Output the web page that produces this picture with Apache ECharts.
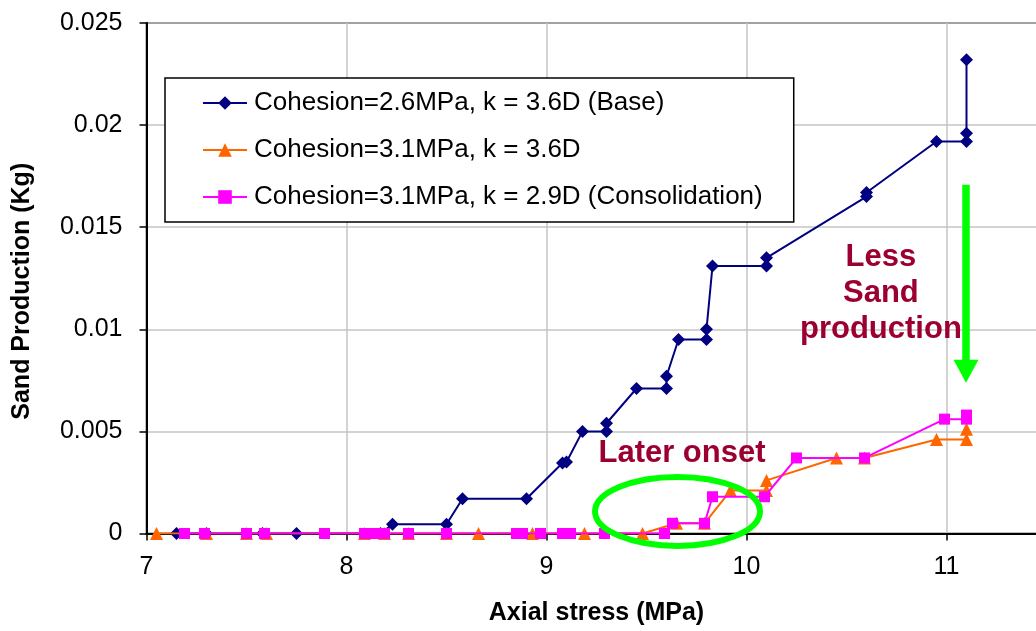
<!DOCTYPE html>
<html>
<head>
<meta charset="utf-8">
<script src="https://cdn.jsdelivr.net/npm/echarts@6/dist/echarts.min.js"></script>
<style>
  html, body { margin: 0; padding: 0; background: #ffffff; }
  #chart { width: 1036px; height: 631px; }
</style>
</head>
<body>
<div id="chart"></div>
<script>
// Series labels
const seriesNames = [
  'Cohesion=2.6MPa, k = 3.6D (Base)',
  'Cohesion=3.1MPa, k = 3.6D',
  'Cohesion=3.1MPa, k = 2.9D (Consolidation)'
];

// Base case: axial stress (MPa) and cumulative sand produced (kg)
const baseStress = [7.15, 7.3, 7.58, 7.75, 8.17, 8.23, 8.5, 8.58, 8.9, 9.08, 9.1, 9.18, 9.3, 9.3, 9.45, 9.6, 9.6, 9.66, 9.8, 9.8, 9.83, 10.1, 10.1, 10.6, 10.6, 10.95, 11.1, 11.1, 11.1];
const baseSand   = [0, 0, 0, 0, 0, 0.00045, 0.00045, 0.0017, 0.0017, 0.00345, 0.0035, 0.005, 0.005, 0.0054, 0.0071, 0.0071, 0.0077, 0.0095, 0.0095, 0.01, 0.0131, 0.0131, 0.0135, 0.0165, 0.0167, 0.0192, 0.0192, 0.0196, 0.0232];

// Higher cohesion, same permeability
const cohStress = [7.05, 7.3, 7.5, 7.6, 8.09, 8.19, 8.31, 8.5, 8.66, 8.93, 9.19, 9.48, 9.65, 9.79, 9.92, 10.1, 10.1, 10.45, 10.59, 10.95, 11.1, 11.1];
const cohSand   = [0, 0, 0, 0, 0, 0, 0, 0, 0, 0, 0, 0, 0.0005, 0.0005, 0.0021, 0.0021, 0.0026, 0.0037, 0.0037, 0.0046, 0.0046, 0.0051];

// Higher cohesion, consolidated (lower permeability)
const consStress = [7.19, 7.29, 7.5, 7.59, 7.89, 8.09, 8.14, 8.19, 8.31, 8.5, 8.85, 8.88, 8.97, 9.08, 9.12, 9.29, 9.59, 9.63, 9.79, 9.83, 10.09, 10.25, 10.59, 10.99, 11.1, 11.1];
const consSand   = [0, 0, 0, 0, 0, 0, 0, 0, 0, 0, 0, 0, 0, 0, 0, 0, 0, 0.0005, 0.0005, 0.0018, 0.0018, 0.0037, 0.0037, 0.0056, 0.0056, 0.0058];

// Axis tick labels
const xTickLabels = ['7', '8', '9', '10', '11', '12'];
const yTickLabels = ['0', '0.005', '0.01', '0.015', '0.02', '0.025'];

// Annotation texts
const onsetText = 'Later onset';
const lessText = 'Less\nSand\nproduction';

const FONT = '"Liberation Sans", Arial, Helvetica, sans-serif';
const NOTE_RED = '#9c0030';
const GREEN = '#00ff00';

const pairs = (xs, ys) => xs.map((x, i) => [x, ys[i]]);

const chart = echarts.init(document.getElementById('chart'), null, { renderer: 'canvas' });

const option = {
  animation: false,
  backgroundColor: '#ffffff',
  grid: {
    left: 146.5, top: 23, right: -110.5, bottom: 97.5,
    containLabel: false,
    outerBoundsMode: 'none',
    show: true, borderColor: '#000000', borderWidth: 1.5, backgroundColor: 'transparent'
  },
  legend: {
    orient: 'vertical',
    left: 165, top: 78,
    padding: [12, 31, 12, 37],
    itemGap: 21,
    itemWidth: 44,
    itemHeight: 17,
    borderColor: '#000000',
    borderWidth: 1.5,
    backgroundColor: '#ffffff',
    textStyle: { fontFamily: FONT, fontSize: 26, color: '#000000', lineHeight: 26, padding: [0, 0, 0, 2] },
    data: seriesNames
  },
  xAxis: {
    type: 'value',
    min: 7, max: 12, interval: 1,
    name: 'Axial stress (MPa)',
    nameLocation: 'middle',
    nameGap: 67,
    nameTextStyle: { fontFamily: FONT, fontSize: 25, fontWeight: 'bold', color: '#000000', padding: [0, 100, 0, 0] },
    axisLine: { onZero: false, lineStyle: { color: '#000000', width: 2 } },
    axisTick: { show: true, inside: false, length: 7, lineStyle: { color: '#000000', width: 1.5 } },
    axisLabel: {
      fontFamily: FONT, fontSize: 25, color: '#000000', margin: 21,
      formatter: v => xTickLabels[Math.round(v - 7)]
    },
    splitLine: { show: true, lineStyle: { color: '#c4c4c4', width: 1.5 } }
  },
  yAxis: {
    type: 'value',
    min: 0, max: 0.025, interval: 0.005,
    name: 'Sand Production (Kg)',
    nameLocation: 'middle',
    nameGap: 112,
    nameTextStyle: { fontFamily: FONT, fontSize: 25, fontWeight: 'bold', color: '#000000', padding: [0, 26, 0, 0] },
    axisLine: { show: true, lineStyle: { color: '#000000', width: 2 } },
    axisTick: { show: true, inside: false, length: 7, lineStyle: { color: '#000000', width: 1.5 } },
    axisLabel: {
      fontFamily: FONT, fontSize: 25, color: '#000000', margin: 24,
      formatter: v => yTickLabels[Math.round(v / 0.005)]
    },
    splitLine: { show: true, lineStyle: { color: '#c4c4c4', width: 1.5 } }
  },
  series: [
    {
      name: seriesNames[0], type: 'line',
      data: pairs(baseStress, baseSand),
      symbol: 'diamond', symbolSize: 13,
      itemStyle: { color: '#000080' },
      lineStyle: { color: '#000080', width: 2 },
      z: 2
    },
    {
      name: seriesNames[1], type: 'line',
      data: pairs(cohStress, cohSand),
      symbol: 'triangle', symbolSize: 13,
      itemStyle: { color: '#ff6600' },
      lineStyle: { color: '#ff6600', width: 2 },
      z: 3
    },
    {
      name: seriesNames[2], type: 'line',
      data: pairs(consStress, consSand),
      symbol: 'rect', symbolSize: 11,
      itemStyle: { color: '#ff00ff' },
      lineStyle: { color: '#ff00ff', width: 2 },
      z: 4
    }
  ]
};

chart.setOption(option);

// Annotations anchored in data space
const toPx = (x, y) => chart.convertToPixel({ gridIndex: 0 }, [x, y]);
const ellC = toPx(9.655, 0.00108);
const onsetC = toPx(9.6775, 0.0039);
const lessC = toPx(10.672, 0.01175);
const arrowTop = toPx(11.0975, 0.01708);
const arrowTip = toPx(11.0975, 0.00738);
const headLen = 23, headHalf = 12.5, shaftHalf = 3.75;

chart.setOption({
  graphic: [
    {
      type: 'ellipse', z: 100,
      shape: { cx: ellC[0], cy: ellC[1], rx: 82.5, ry: 34.5 },
      style: { fill: null, stroke: GREEN, lineWidth: 6 }
    },
    {
      type: 'text', z: 100,
      x: onsetC[0], y: onsetC[1],
      style: { text: onsetText, fill: NOTE_RED, font: 'bold 31px ' + FONT, align: 'center', verticalAlign: 'middle' }
    },
    {
      type: 'text', z: 100,
      x: lessC[0], y: lessC[1],
      style: { text: lessText, fill: NOTE_RED, font: 'bold 31px ' + FONT, lineHeight: 36, align: 'center', verticalAlign: 'middle' }
    },
    {
      type: 'rect', z: 100,
      shape: { x: arrowTop[0] - shaftHalf, y: arrowTop[1], width: shaftHalf * 2, height: arrowTip[1] - headLen - arrowTop[1] + 1 },
      style: { fill: GREEN }
    },
    {
      type: 'polygon', z: 100,
      shape: { points: [[arrowTip[0] - headHalf, arrowTip[1] - headLen], [arrowTip[0] + headHalf, arrowTip[1] - headLen], [arrowTip[0], arrowTip[1]]] },
      style: { fill: GREEN }
    }
  ]
});
</script>
</body>
</html>
